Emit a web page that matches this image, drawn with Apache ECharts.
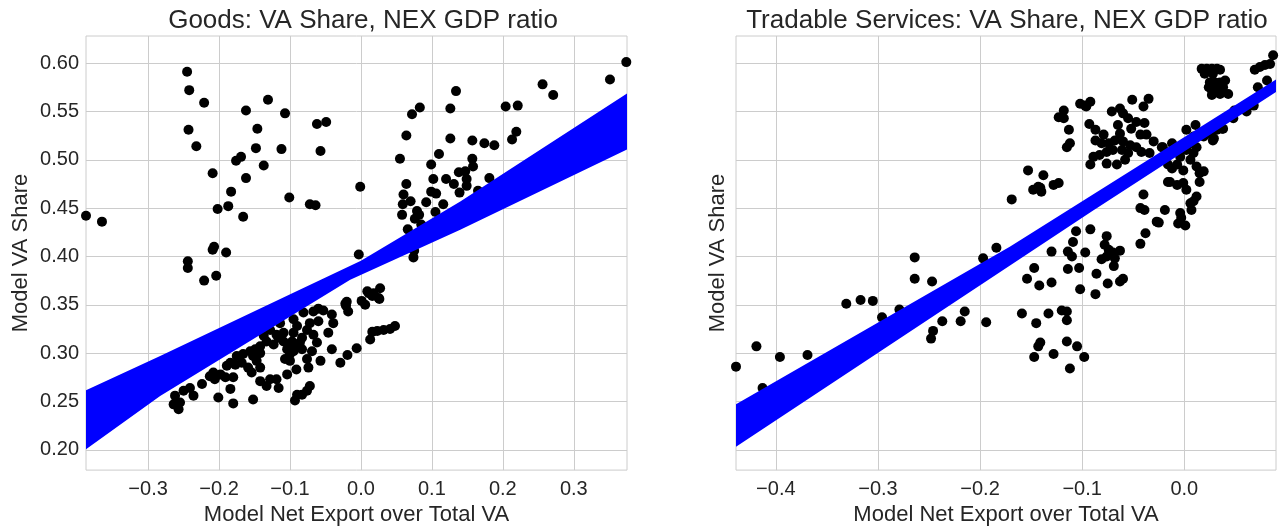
<!DOCTYPE html>
<html><head><meta charset="utf-8">
<script src="https://cdn.jsdelivr.net/npm/echarts@6/dist/echarts.min.js"></script>
<style>html,body{margin:0;padding:0;background:#fff}#c{width:1281px;height:531px}</style>
</head><body><div id="c"></div>
<script>
const titles = ['Goods: VA Share, NEX GDP ratio', 'Tradable Services: VA Share, NEX GDP ratio'];
const xLabel = 'Model Net Export over Total VA';
const yLabel = 'Model VA Share';
const yTicks = [0.20, 0.25, 0.30, 0.35, 0.40, 0.45, 0.50, 0.55, 0.60];
const goodsXTicks = [-0.3, -0.2, -0.1, 0.0, 0.1, 0.2, 0.3];
const servXTicks = [-0.4, -0.3, -0.2, -0.1, 0.0];

const goodsPoints = [
[-0.245,0.591],[-0.242,0.572],[-0.221,0.559],[-0.162,0.551],[-0.131,0.562],[-0.107,0.548],[-0.062,0.537],[-0.049,0.539],[-0.243,0.531],[-0.146,0.532],[-0.232,0.514],[-0.148,0.512],[-0.112,0.511],[-0.057,0.509],[-0.176,0.499],[-0.169,0.503],[-0.137,0.494],[-0.209,0.486],[-0.162,0.481],[-0.183,0.467],[-0.101,0.461],[-0.072,0.454],[-0.064,0.453],[-0.202,0.449],[-0.187,0.452],[-0.166,0.441],[-0.3875,0.442],[-0.365,0.436],[-0.207,0.410],[-0.209,0.407],[-0.190,0.404],[-0.244,0.395],[-0.244,0.388],[-0.221,0.375],[-0.204,0.380],
[0.374,0.601],[0.351,0.583],[0.256,0.578],[0.271,0.567],[0.134,0.571],[0.083,0.554],[0.072,0.547],[0.126,0.553],[0.204,0.555],[0.221,0.556],[0.219,0.529],[0.213,0.521],[0.064,0.525],[0.126,0.522],[0.157,0.520],[0.174,0.517],[0.188,0.515],[0.055,0.501],[0.110,0.506],[0.099,0.495],[0.157,0.501],[0.158,0.493],[-0.001,0.472],[0.064,0.475],[0.102,0.480],[0.120,0.480],[0.138,0.487],[0.147,0.488],[0.149,0.480],[0.131,0.475],[0.139,0.466],[0.149,0.473],[0.060,0.464],[0.070,0.457],[0.059,0.454],[0.058,0.443],[0.079,0.447],[0.082,0.443],[0.076,0.439],[0.092,0.456],[0.105,0.446],[0.116,0.454],[0.099,0.467],[0.106,0.465],[0.181,0.481],[0.066,0.428],[-0.003,0.402],[0.075,0.406],[0.074,0.399],[0.107,0.425],[0.085,0.433],[0.165,0.468],
[0.027,0.367],[0.018,0.362],[0.009,0.364],[0.025,0.357],[0.001,0.354],[0.006,0.350],[-0.022,0.351],[-0.018,0.343],[0.048,0.328],[0.041,0.325],[0.032,0.324],[0.023,0.323],[0.016,0.322],[0.013,0.314],[-0.006,0.305],[-0.019,0.298],[-0.029,0.290],
[-0.067,0.343],[-0.053,0.344],[-0.041,0.340],[-0.039,0.331],[-0.046,0.321],[-0.041,0.304],[-0.057,0.292],[-0.060,0.333],[-0.072,0.331],[-0.076,0.324],[-0.067,0.319],[-0.062,0.311],[-0.069,0.302],[-0.076,0.294],[-0.074,0.285],[-0.083,0.316],[-0.090,0.328],[-0.095,0.321],[-0.097,0.312],[-0.090,0.306],[-0.100,0.299],[-0.107,0.294],[-0.100,0.292],[-0.102,0.307],[-0.109,0.321],[-0.119,0.319],[-0.123,0.309],[-0.133,0.312],[-0.142,0.307],[-0.149,0.304],[-0.156,0.302],[-0.114,0.331],[-0.128,0.324],[-0.137,0.318],[-0.166,0.299],[-0.168,0.290],[-0.184,0.290],[-0.177,0.288],[-0.159,0.285],[-0.142,0.285],[-0.154,0.280],[-0.198,0.278],[-0.191,0.275],[-0.180,0.275],[-0.208,0.280],[-0.206,0.273],[-0.224,0.268],[-0.142,0.271],[-0.133,0.266],[-0.119,0.273],[-0.116,0.264],[-0.128,0.273],[-0.104,0.278],[-0.091,0.283],[-0.072,0.266],[-0.076,0.261],[-0.083,0.257],[-0.090,0.257],[-0.093,0.251],[-0.184,0.263],[-0.180,0.248],[-0.201,0.254],[-0.152,0.252],[-0.236,0.256],[-0.241,0.264],[-0.250,0.261],[-0.262,0.256],[-0.264,0.247],[-0.257,0.242],[-0.255,0.249],[-0.213,0.276],[-0.175,0.297],[-0.189,0.287],[-0.152,0.297],[-0.147,0.292],[-0.142,0.300],[-0.116,0.316],[-0.109,0.312],[-0.104,0.304],[-0.095,0.335],[-0.081,0.342],[-0.095,0.302],[-0.083,0.304],[-0.086,0.311],
[0.026,0.356],[0.011,0.362],[0.016,0.359],[-0.020,0.353],[-0.021,0.349],[-0.060,0.346]
];

const servPoints = [
[0.017,0.594],[0.022,0.594],[0.027,0.594],[0.032,0.594],[0.035,0.593],[0.020,0.589],[0.028,0.589],[0.025,0.580],[0.030,0.580],[0.035,0.580],[0.040,0.582],[0.024,0.575],[0.027,0.572],[0.032,0.574],[0.038,0.575],[0.043,0.568],[0.035,0.568],[0.027,0.567],
[0.087,0.608],[0.084,0.599],[0.079,0.598],[0.074,0.596],[0.069,0.593],[0.081,0.582],[0.072,0.575],[0.068,0.556],[0.061,0.550],[0.049,0.551],[0.037,0.532],
[-0.102,0.558],[-0.097,0.556],[-0.092,0.560],[-0.096,0.555],[-0.118,0.551],[-0.123,0.544],[-0.118,0.543],[-0.113,0.531],[-0.112,0.517],[-0.115,0.513],[-0.051,0.562],[-0.040,0.555],[-0.035,0.563],[-0.071,0.550],[-0.063,0.553],[-0.060,0.548],[-0.055,0.543],[-0.047,0.539],[-0.039,0.538],[-0.093,0.537],[-0.087,0.531],[-0.079,0.526],[-0.065,0.536],[-0.063,0.527],[-0.052,0.532],[-0.043,0.526],[-0.037,0.526],[-0.030,0.519],[-0.022,0.513],[-0.087,0.520],[-0.081,0.517],[-0.074,0.517],[-0.068,0.520],[-0.060,0.519],[-0.053,0.515],[-0.047,0.513],[-0.042,0.508],[-0.034,0.507],[-0.076,0.508],[-0.070,0.510],[-0.061,0.510],[-0.055,0.507],[-0.058,0.500],[-0.083,0.505],[-0.089,0.503],[-0.092,0.495],[-0.076,0.496],[-0.066,0.495],
[-0.040,0.464],[-0.016,0.495],[-0.016,0.477],[-0.138,0.484],[-0.128,0.474],[-0.123,0.476],[-0.141,0.471],[-0.153,0.489],[-0.143,0.472],[-0.148,0.469],[-0.140,0.467],[-0.169,0.459],
[-0.014,0.477],[-0.007,0.474],[-0.001,0.476],[0.002,0.469],[0.015,0.477],[0.012,0.462],[0.006,0.455],[-0.012,0.491],[-0.007,0.495],[-0.001,0.489],[0.006,0.500],[0.009,0.507],[0.012,0.493],[0.015,0.486],[0.019,0.488],[-0.004,0.503],[0.002,0.510],[0.006,0.517],[0.012,0.513],[0.009,0.524],[0.019,0.524],[0.025,0.527],[0.032,0.531],[0.002,0.531],[0.011,0.536],[-0.021,0.513],[-0.012,0.517],[0.038,0.532],[0.048,0.543],[0.028,0.520],[0.029,0.522],
[-0.043,0.450],[-0.039,0.448],[-0.019,0.448],[-0.004,0.445],[-0.003,0.440],[-0.006,0.434],[0.001,0.432],[0.007,0.448],[0.009,0.457],[-0.027,0.436],[-0.025,0.435],[-0.038,0.424],[-0.043,0.413],
[-0.106,0.426],[-0.092,0.428],[-0.109,0.415],[-0.130,0.405],[-0.114,0.405],[-0.110,0.400],[-0.097,0.404],
[-0.076,0.421],[-0.078,0.412],[-0.074,0.407],[-0.070,0.404],[-0.063,0.406],[-0.081,0.397],[-0.076,0.400],[-0.068,0.398],[-0.069,0.390],
[-0.147,0.388],[-0.154,0.377],[-0.142,0.370],[-0.130,0.373],[-0.114,0.387],[-0.103,0.388],[-0.102,0.366],[-0.086,0.382],[-0.087,0.361],[-0.075,0.372],[-0.063,0.374],[-0.060,0.377],
[-0.159,0.341],[-0.145,0.331],[-0.133,0.341],[-0.120,0.344],[-0.115,0.343],[-0.115,0.334],
[-0.141,0.311],[-0.143,0.307],[-0.115,0.312],[-0.105,0.307],[-0.128,0.299],[-0.147,0.296],[-0.098,0.296],[-0.112,0.284],
[-0.184,0.409],[-0.197,0.398],[-0.264,0.399],[-0.264,0.377],[-0.247,0.374],[-0.331,0.351],[-0.317,0.355],[-0.305,0.354],[-0.296,0.337],[-0.279,0.345],[-0.237,0.333],[-0.246,0.323],[-0.248,0.315],[-0.219,0.333],[-0.215,0.343],[-0.194,0.332],[-0.439,0.286],[-0.419,0.307],[-0.396,0.296],[-0.369,0.298],[-0.413,0.264]
];

// regression band edges (upper and lower envelopes)
const goodsBandUpper = [[-0.3875,0.2615],[-0.283,0.2969],[-0.0997,0.361],[0.0,0.3955],[0.14,0.4567],[0.375,0.5685]];
const goodsBandLower = [[-0.3875,0.2005],[-0.283,0.2557],[-0.0151,0.376],[0.14,0.4275],[0.375,0.5105]];
const servBandUpper = [[-0.439,0.2471],[-0.1705,0.4103],[0.0898,0.5829]];
const servBandLower = [[-0.439,0.2031],[-0.09,0.447],[0.0898,0.5701]];

const FONT = '"Liberation Sans", Arial, sans-serif';
const TXT = '#262626';
const GRID = '#cccccc';
function fmtX(v) { return (v < -1e-9 ? '\u2212' : '') + Math.abs(v).toFixed(1); }
function fmtY(v) { return v.toFixed(2); }

function xAxis(gi, min, max, ticks) {
  return {
    type: 'value', gridIndex: gi, min: min, max: max,
    axisLine: { show: false }, axisTick: { show: false, customValues: ticks },
    axisLabel: { customValues: ticks, formatter: fmtX, fontSize: 20, color: TXT, fontFamily: FONT, margin: 9 },
    splitLine: { show: true, lineStyle: { color: GRID, width: 1 } },
    name: xLabel, nameLocation: 'middle', nameGap: 32,
    nameTextStyle: { fontSize: 22, color: TXT, fontFamily: FONT }
  };
}
function yAxis(gi, showLabels, gap) {
  return {
    type: 'value', gridIndex: gi, min: 0.179, max: 0.628,
    axisLine: { show: false }, axisTick: { show: false, customValues: yTicks },
    axisLabel: { show: showLabels, customValues: yTicks, formatter: fmtY, fontSize: 20, color: TXT, fontFamily: FONT, margin: 7 },
    splitLine: { show: true, lineStyle: { color: GRID, width: 1 } },
    name: yLabel, nameLocation: 'middle', nameGap: gap,
    nameTextStyle: { fontSize: 22, color: TXT, fontFamily: FONT }
  };
}
function band(idx, upper, lower) {
  return {
    type: 'custom', xAxisIndex: idx, yAxisIndex: idx, z: 5, silent: true,
    data: [[upper[0][0], upper[0][1]]],
    renderItem: function (params, api) {
      const pts = upper.map(p => api.coord(p)).concat(lower.slice().reverse().map(p => api.coord(p)));
      return { type: 'polygon', shape: { points: pts }, style: { fill: '#0000ff', stroke: null } };
    }
  };
}
function scatter(idx, pts) {
  return {
    type: 'scatter', xAxisIndex: idx, yAxisIndex: idx, z: 2, silent: true,
    symbol: 'circle', symbolSize: 10, itemStyle: { color: '#000000', opacity: 1 },
    data: pts
  };
}

const chart = echarts.init(document.getElementById('c'), null, { renderer: 'canvas' });
chart.setOption({
  animation: false,
  backgroundColor: '#ffffff',
  title: [
    { text: titles[0], left: 358, top: 3, textAlign: 'center', textStyle: { fontSize: 26, fontWeight: 'normal', color: TXT, fontFamily: FONT } },
    { text: titles[1], left: 1002, top: 3, textAlign: 'center', textStyle: { fontSize: 26, fontWeight: 'normal', color: TXT, fontFamily: FONT } }
  ],
  grid: [
    { left: 86, top: 36, width: 541, height: 435, show: true, borderColor: GRID, borderWidth: 1, backgroundColor: '#ffffff' },
    { left: 736, top: 36, width: 540, height: 435, show: true, borderColor: GRID, borderWidth: 1, backgroundColor: '#ffffff' }
  ],
  xAxis: [xAxis(0, -0.3875, 0.375, goodsXTicks), xAxis(1, -0.439, 0.0898, servXTicks)],
  yAxis: [yAxis(0, true, 54), yAxis(1, false, 7)],
  series: [
    scatter(0, goodsPoints), band(0, goodsBandUpper, goodsBandLower),
    scatter(1, servPoints), band(1, servBandUpper, servBandLower)
  ]
});
</script>
</body></html>
